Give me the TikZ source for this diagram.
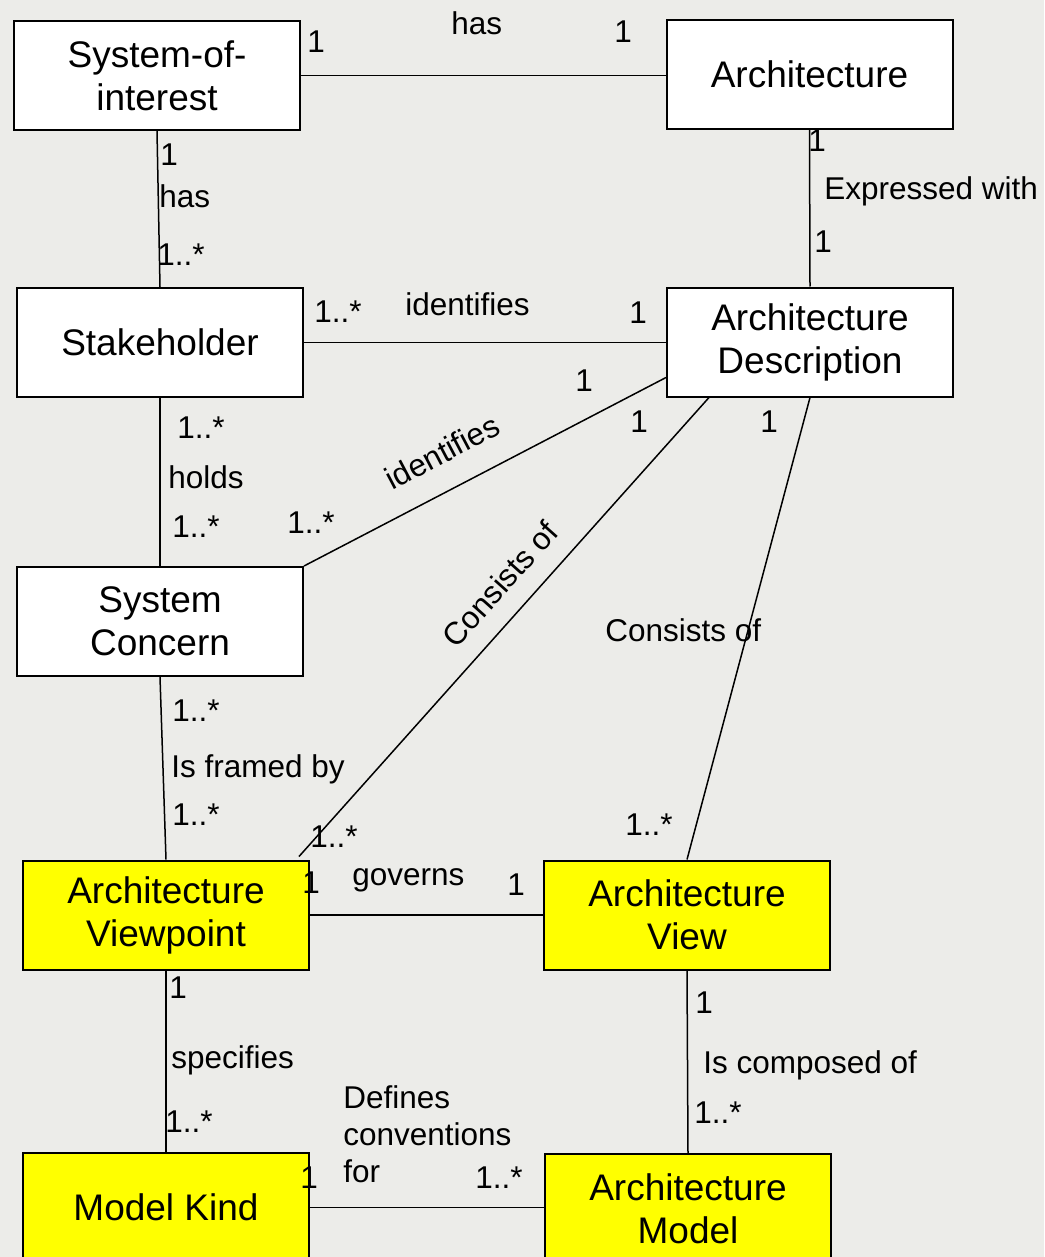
\documentclass[tikz,border=0pt]{standalone}
\usepackage{fontspec}
\setmainfont{Liberation Sans}
\definecolor{paper}{RGB}{236,236,233}
\definecolor{hilite}{RGB}{255,255,0}
\tikzset{
  box/.style={draw=black, line width=1pt, fill=white, rectangle,
    minimum width=143pt, minimum height=54.5pt, inner sep=0pt,
    align=center, font=\fontsize{18.5pt}{21.5pt}\selectfont},
  keybox/.style={box, fill=hilite},
  assoc/.style={draw=black, line width=0.75pt},
  lbl/.style={inner sep=0pt, anchor=base west, font=\fontsize{15.75pt}{18.5pt}\selectfont}
}
\begin{document}
\begin{tikzpicture}[x=0.5pt, y=-0.5pt]
  % canvas
  \useasboundingbox (0,0) rectangle (1044,1257);
  \clip (0,0) rectangle (1044,1257);
  \fill[paper] (0,0) rectangle (1044,1257);

  % classes
  \node[box] (soi) at (157,75.5) {System-of-\\interest};
  \node[box] (arch) at (809.5,74.5) {Architecture};
  \node[box] (stk) at (160,342.5) {Stakeholder};
  \node[box] (ad) at (810,342) {Architecture\\Description};
  \node[box] (sc) at (160,621.5) {System\\Concern};
  \node[keybox] (vp) at (166,915) {Architecture\\Viewpoint};
  \node[keybox] (view) at (687,915) {Architecture\\View};
  \node[keybox] (mk) at (166,1207.5) {Model Kind};
  \node[keybox] (model) at (688,1208.5) {Architecture\\Model};

  % association end points off the anchors
  \coordinate (adLeft) at ([yshift=10pt]ad.south west);
  \coordinate (adBottom) at ([xshift=21.5pt]ad.south west);
  \coordinate (vpEnd) at ([xshift=-5.5pt,yshift=1.5pt]vp.north east);

  % associations
  \draw[assoc] (soi.east) -- (soi.east -| arch.west);
  \draw[assoc] (soi.south) -- (stk.north);
  \draw[assoc] (arch.south) -- (ad.north);
  \draw[assoc] (stk.east) -- (stk.east -| ad.west);
  \draw[assoc] (stk.south) -- (sc.north);
  \draw[assoc] (adLeft) -- (sc.north east);
  \draw[assoc] (adBottom) -- (vpEnd);
  \draw[assoc] (ad.south) -- (view.north);
  \draw[assoc] (sc.south) -- (vp.north);
  \draw[assoc] (vp.east) -- (view.west);
  \draw[assoc] (vp.south) -- (mk.north);
  \draw[assoc] (view.south) -- (model.north);
  \draw[assoc] (mk.east) -- (mk.east -| model.west);

  % System-of-interest -- Architecture
  \node[lbl] (l1) at (451,34.5) {has};
  \node[lbl] (m1a) at (307,53) {1};
  \node[lbl] (m1b) at (614,43) {1};
  % System-of-interest -- Stakeholder
  \node[lbl] (m2a) at (160,166) {1};
  \node[lbl] (l2) at (159,208) {has};
  \node[lbl] (m2b) at (157,265) {1..*};
  % Architecture -- Architecture Description
  \node[lbl] (m3a) at (808,152) {1};
  \node[lbl] (l3) at (824,200) {Expressed with};
  \node[lbl] (m3b) at (814,252) {1};
  % Stakeholder -- Architecture Description
  \node[lbl] (m4a) at (314,322) {1..*};
  \node[lbl] (l4) at (405,315) {identifies};
  \node[lbl] (m4b) at (629,323) {1};
  % Architecture Description -- System Concern
  \node[lbl] (m5a) at (575,391) {1};
  \node[lbl, rotate=27.8] (l5) at (392,491) {identifies};
  \node[lbl] (m5b) at (287,533) {1..*};
  % Stakeholder -- System Concern
  \node[lbl] (m6a) at (177,438) {1..*};
  \node[lbl] (l6) at (168,488) {holds};
  \node[lbl] (m6b) at (172,537) {1..*};
  % Architecture Description -- Architecture Viewpoint
  \node[lbl] (m7a) at (630,432) {1};
  \node[lbl, rotate=48.2] (l7) at (456,650) {Consists of};
  \node[lbl] (m7b) at (310,847) {1..*};
  % Architecture Description -- Architecture View
  \node[lbl] (m8a) at (760,432) {1};
  \node[lbl] (l8) at (605,641) {Consists of};
  \node[lbl] (m8b) at (625,835) {1..*};
  % System Concern -- Architecture Viewpoint
  \node[lbl] (m9a) at (172,721) {1..*};
  \node[lbl] (l9) at (171,777) {Is framed by};
  \node[lbl] (m9b) at (172,825) {1..*};
  % Architecture Viewpoint -- Architecture View
  \node[lbl] (m10a) at (302,893) {1};
  \node[lbl] (l10) at (352,885) {governs};
  \node[lbl] (m10b) at (507,895) {1};
  % Architecture Viewpoint -- Model Kind
  \node[lbl] (m11a) at (169,998) {1};
  \node[lbl] (l11) at (171,1068) {specifies};
  \node[lbl] (m11b) at (165,1132) {1..*};
  % Architecture View -- Architecture Model
  \node[lbl] (m12a) at (695,1013) {1};
  \node[lbl] (l12) at (703,1073) {Is composed of};
  \node[lbl] (m12b) at (694,1123) {1..*};
  % Model Kind -- Architecture Model
  \node[lbl, anchor=north west, align=left] (l13) at (343,1085) {Defines\\conventions\\for};
  \node[lbl] (m13a) at (300,1188) {1};
  \node[lbl] (m13b) at (475,1188) {1..*};
\end{tikzpicture}
\end{document}
